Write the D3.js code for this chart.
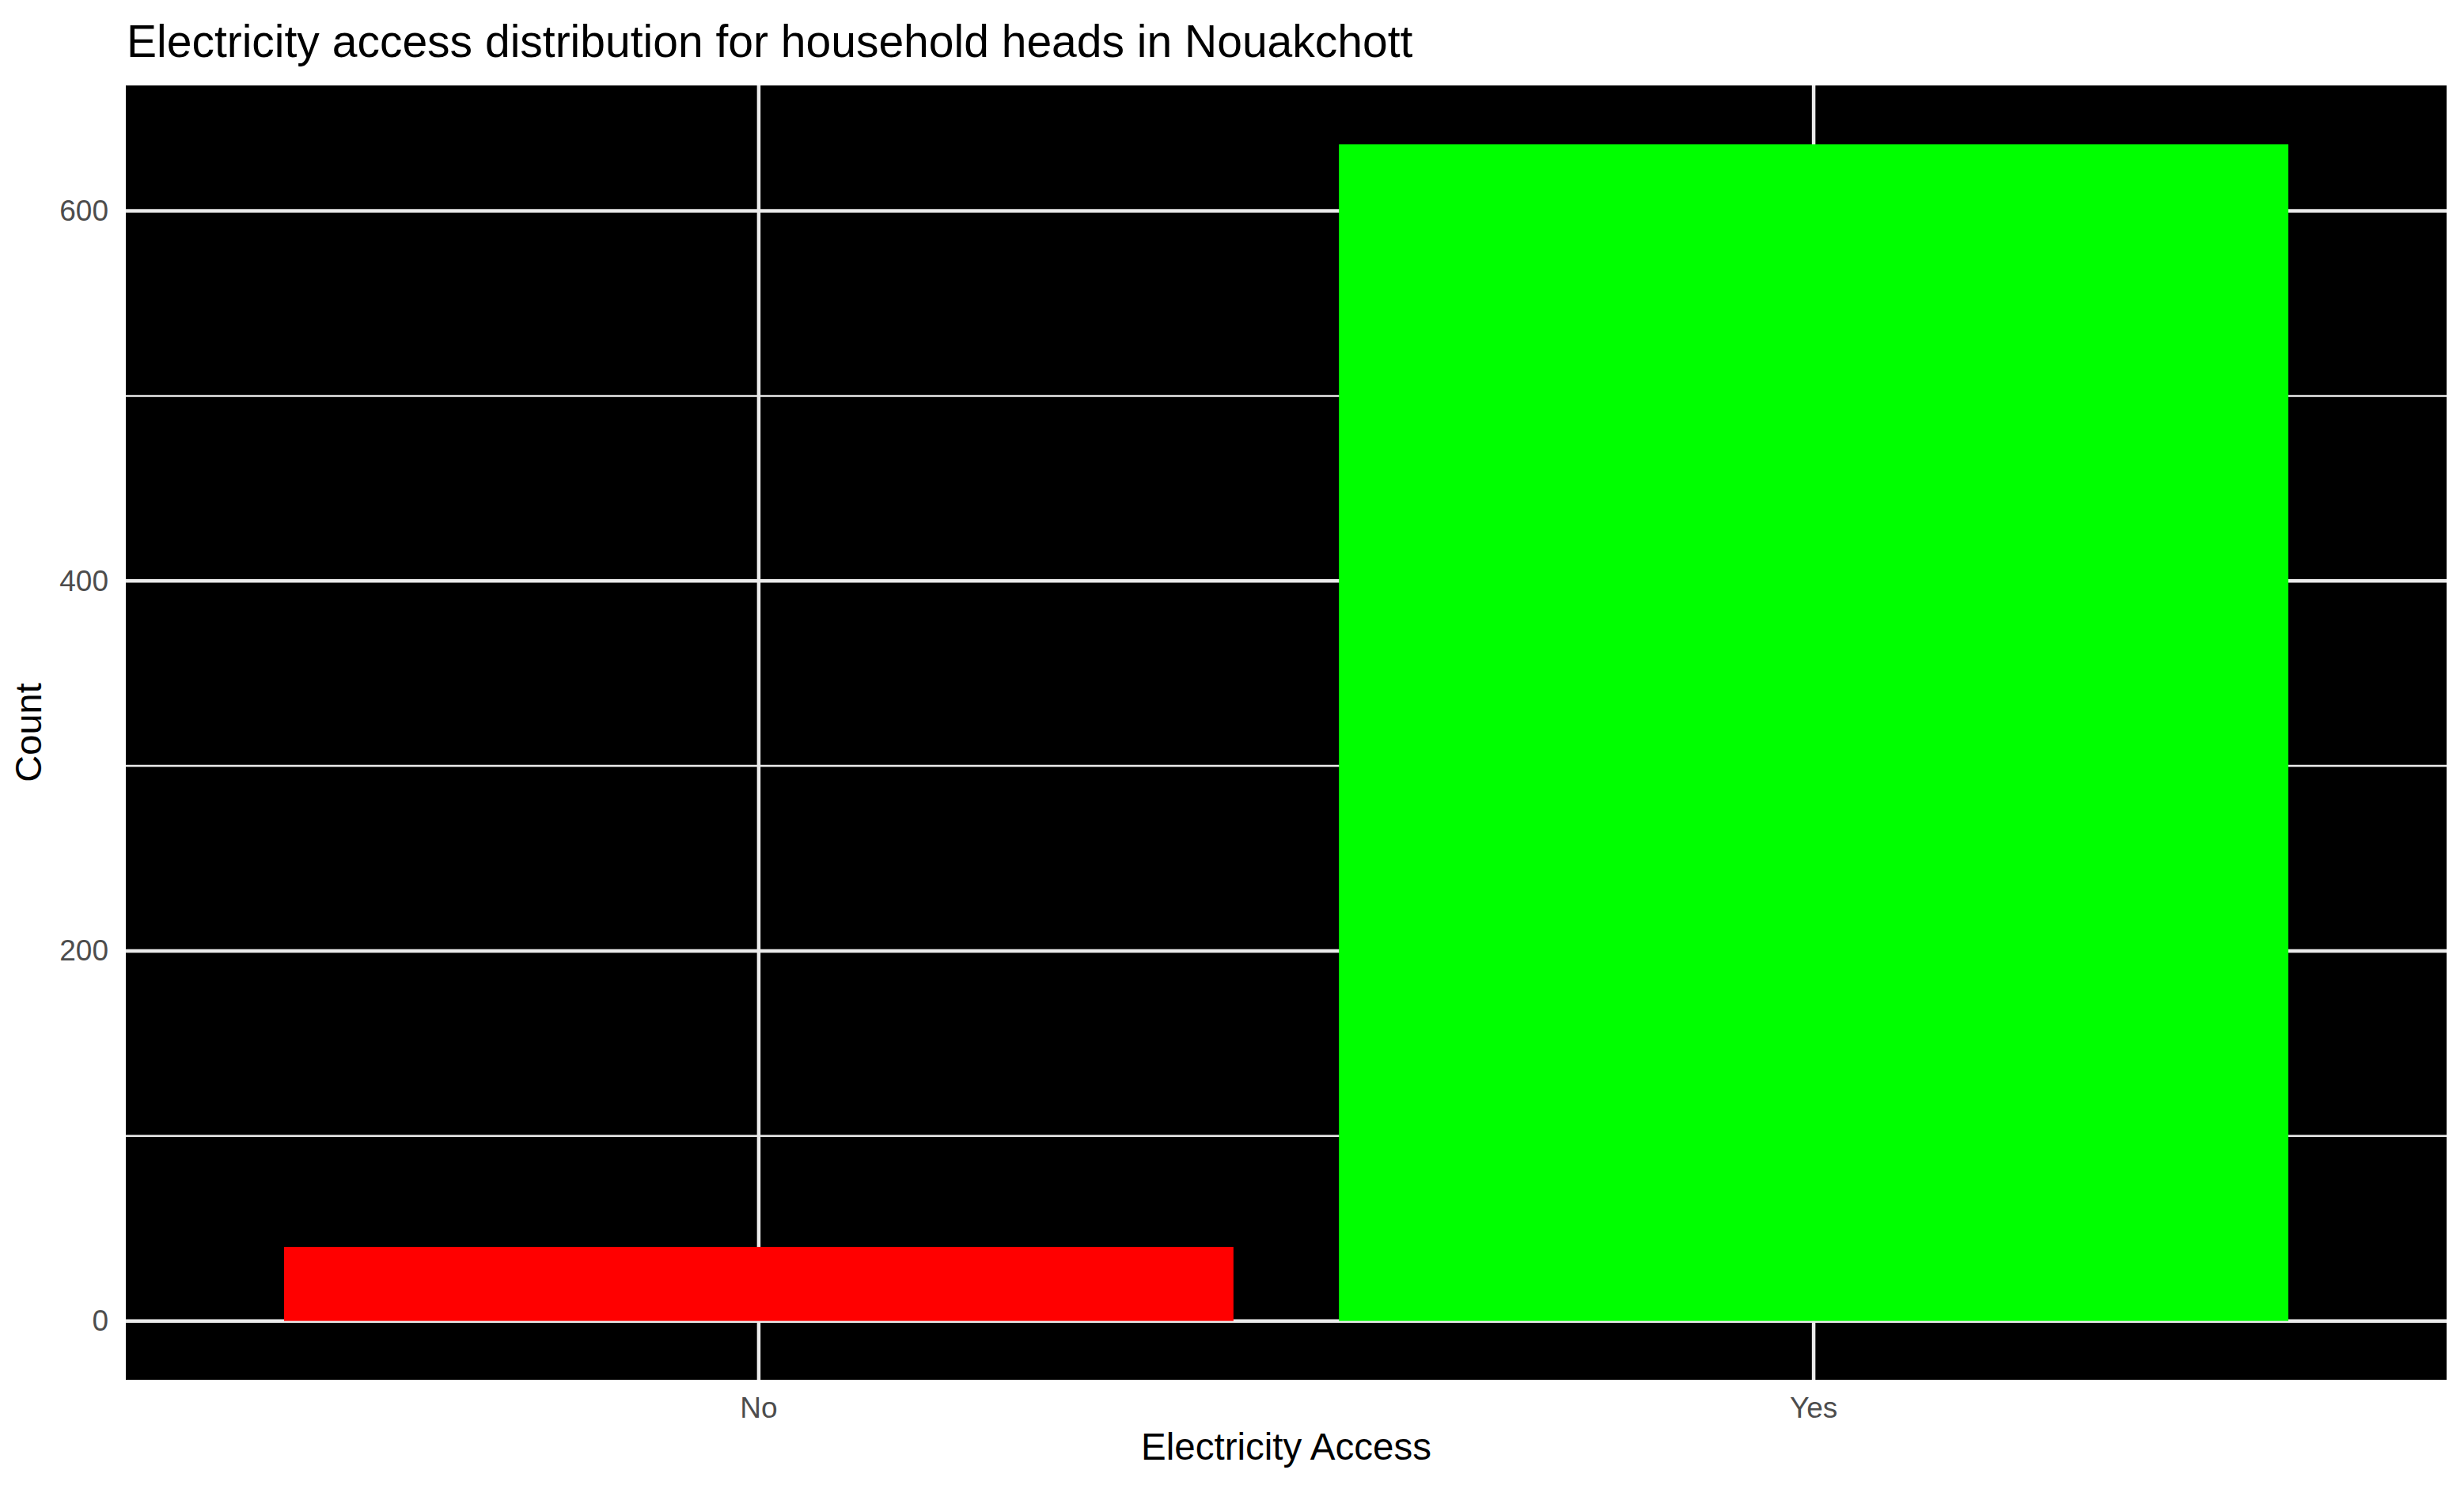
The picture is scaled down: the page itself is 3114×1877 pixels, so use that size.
<!DOCTYPE html>
<meta charset="utf-8">
<style>
body {
	margin: 0;
	background: #fff;
}
text {
	font-family: 'Liberation Sans', Helvetica, Arial, sans-serif;
}
.grid line {
	stroke: #ebebeb;
}
.tick text {
	fill: #4d4d4d;
	font-size: 37px;
}
</style>
<svg width="3114" height="1877"></svg>
<script src="https://d3js.org/d3.v7.min.js"></script>
<script>
// data
var categories = ["No", "Yes"];
var counts = [40, 636];
var barColors = ["#ff0000", "#00ff00"];
var yTicks = [0, 200, 400, 600];

var svg = d3.select("svg"),
	width = +svg.attr("width"),
	height = +svg.attr("height");

var panel = { left: 159, right: 3092, top: 108, bottom: 1744 };

// ggplot-like 5% expansion on the count axis
var maxCount = d3.max(counts);
var y = d3.scaleLinear()
	.domain([-0.05 * maxCount, 1.05 * maxCount])
	.range([panel.bottom, panel.top]);

// discrete axis: bar width 0.9, 0.6 expansion on each side
var x = d3.scaleBand()
	.domain(categories)
	.range([panel.left, panel.right])
	.paddingInner(0.1)
	.paddingOuter(0.15);

svg.append("rect")
	.attr("x", panel.left)
	.attr("y", panel.top)
	.attr("width", panel.right - panel.left)
	.attr("height", panel.bottom - panel.top)
	.attr("fill", "#000");

var minorTicks = yTicks.slice(1).map(function(t, i) { return (t + yTicks[i]) / 2; });

var grid = svg.append("g").attr("class", "grid");

grid.selectAll("line.minor")
	.data(minorTicks)
	.enter().append("line")
	.attr("class", "minor")
	.attr("x1", panel.left)
	.attr("x2", panel.right)
	.attr("y1", function(d) { return y(d); })
	.attr("y2", function(d) { return y(d); })
	.attr("stroke-width", 2.5);

grid.selectAll("line.hmajor")
	.data(yTicks)
	.enter().append("line")
	.attr("class", "hmajor")
	.attr("x1", panel.left)
	.attr("x2", panel.right)
	.attr("y1", function(d) { return y(d); })
	.attr("y2", function(d) { return y(d); })
	.attr("stroke-width", 4.5);

grid.selectAll("line.vmajor")
	.data(categories)
	.enter().append("line")
	.attr("class", "vmajor")
	.attr("x1", function(d) { return x(d) + x.bandwidth() / 2; })
	.attr("x2", function(d) { return x(d) + x.bandwidth() / 2; })
	.attr("y1", panel.top)
	.attr("y2", panel.bottom)
	.attr("stroke-width", 4.5);

svg.append("g")
	.selectAll("rect")
	.data(categories)
	.enter().append("rect")
	.attr("x", function(d) { return x(d); })
	.attr("width", x.bandwidth())
	.attr("y", function(d, i) { return y(counts[i]); })
	.attr("height", function(d, i) { return y(0) - y(counts[i]); })
	.attr("fill", function(d, i) { return barColors[i]; });

// axes, no tick marks
var yAxis = svg.append("g")
	.attr("transform", "translate(" + panel.left + ",0)")
	.call(d3.axisLeft(y).tickValues(yTicks).tickSize(0).tickPadding(22));
yAxis.select(".domain").remove();

var xAxis = svg.append("g")
	.attr("transform", "translate(0," + panel.bottom + ")")
	.call(d3.axisBottom(x).tickSize(0).tickPadding(22));
xAxis.select(".domain").remove();

svg.selectAll(".tick text")
	.attr("font-family", null)
	.attr("font-size", null);

// titles
svg.append("text")
	.attr("x", 160)
	.attr("y", 72)
	.attr("font-size", 57)
	.attr("fill", "#000")
	.text("Electricity access distribution for household heads in Nouakchott");

svg.append("text")
	.attr("x", (panel.left + panel.right) / 2)
	.attr("y", 1845)
	.attr("text-anchor", "middle")
	.attr("font-size", 47.5)
	.attr("fill", "#000")
	.text("Electricity Access");

svg.append("text")
	.attr("transform", "translate(52," + (panel.top + panel.bottom) / 2 + ") rotate(-90)")
	.attr("text-anchor", "middle")
	.attr("font-size", 47)
	.attr("fill", "#000")
	.text("Count");
</script>
